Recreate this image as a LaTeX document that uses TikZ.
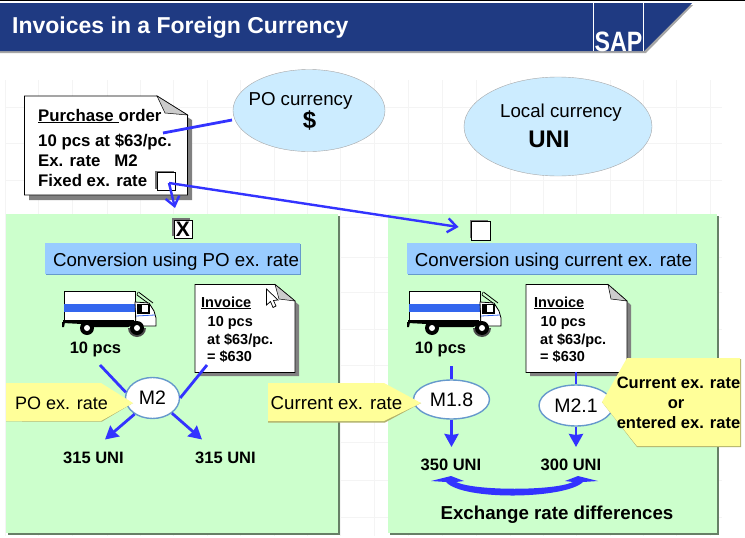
\documentclass[tikz,border=0pt]{standalone}
\usepackage{graphicx}
\usepackage{fontspec}
\setmainfont{Liberation Sans}
\usetikzlibrary{arrows.meta,shapes.geometric}
\definecolor{hdr}{HTML}{1F3A82}
\definecolor{pgreen}{HTML}{CCFFCC}
\definecolor{barblue}{HTML}{99CCFF}
\definecolor{skyfill}{HTML}{CCECFF}
\definecolor{callout}{HTML}{FFFF99}
\definecolor{arrowblue}{HTML}{3333FF}
\definecolor{ringblue}{HTML}{6699CC}
\definecolor{gridc}{HTML}{F4F4F4}
\definecolor{bandblue}{HTML}{3366EE}
\tikzset{
  x=1pt,y=-1pt,
  panel/.style={fill=pgreen,draw=none},
  panelshade/.style={fill=black!50!pgreen},
  barbox/.style={fill=barblue,draw=none},
  barshade/.style={fill=ringblue},
  sky/.style={ellipse,fill=skyfill,draw=gray!70,line width=.4pt,inner sep=0pt},
  rate/.style={ellipse,fill=white,draw=ringblue,line width=1.4pt,inner sep=0pt,font=\fontsize{19.5}{22}\selectfont},
  note/.style={fill=white,draw=black,line width=.9pt},
  noteshade/.style={fill=black!50},
  fold/.style={fill=black!20,draw=black,line width=.5pt},
  calloutbox/.style={fill=callout,draw=none},
  calloutshade/.style={fill=black!30!callout},
  tick/.style={fill=white,draw=black,line width=.9pt},
  tickshade/.style={fill=black!55},
  link/.style={draw=arrowblue,line width=2.8pt},
  linkarrow/.style={draw=arrowblue,line width=2.8pt,-{Stealth[length=13pt,width=14pt,inset=1pt]}},
  openarrow/.style={draw=arrowblue,line width=2.4pt,-{Straight Barb[length=9pt,width=14pt]}},
  boldtxt/.style={font=\bfseries\fontsize{16.5}{19}\selectfont,text=black,inner sep=0pt},
  potxtstyle/.style={font=\bfseries\fontsize{16.8}{19}\selectfont,text=black,inner sep=0pt},
  invtxt/.style={font=\bfseries\fontsize{14.5}{17}\selectfont,text=black,inner sep=0pt},
  plain/.style={font=\fontsize{18.7}{22}\selectfont,text=black,inner sep=0pt},
  truckpic/.pic={
    \draw[fill=white,draw=black,line width=.9pt] (2,0) rectangle (73,30);
    \fill[bandblue] (2,13) rectangle (73,21);
    \fill[black] (1,29) -- (72,29) -- (72,34) -- (66,36) -- (32,36) -- (20,33) -- (1,32) -- cycle;
    \draw[fill=white,draw=black,line width=.8pt] (73,11) -- (87,12) -- (92,20) -- (94,27) -- (94,35) -- (74,35) -- cycle;
    \draw[fill=white,draw=black,line width=1.4pt] (76,13.5) rectangle (87,22);
    \fill[black] (76,13) rectangle (80,22);
    \draw[black,line width=.8pt] (76.5,1) -- (91,12);
    \draw[black,line width=.8pt] (75,4) -- (86,12);
    \draw[black,line width=.6pt] (76,1) -- (75,4);
    \draw[bandblue,line width=.8pt] (74,25) -- (93,24);
    \fill[black] (0,31) -- (3,31) -- (2,36) -- (0,36) -- cycle;
    \fill[black] (25,37) circle (7);
    \fill[white] (25,37) circle (3);
    \fill[black!70] (66,37) arc (180:0:9 and 9) -- cycle;
    \fill[black] (75,37) circle (7);
    \fill[white] (75,37) circle (3);
  }
}
\begin{document}
\begin{tikzpicture}
\useasboundingbox (0,0) rectangle (745,538);
\fill[white] (0,0) rectangle (745,538);
% faint grid
\foreach \gx in {5,38,72,107,140,173,207,240,274,307,340,374,408,442,476,510,543,576,610,643,676,710}
  \draw[gridc,line width=1pt] (\gx,80) -- (\gx,536);
\foreach \gy in {107,143,180,217,257,292,329,365,402,442,480,517}
  \draw[gridc,line width=1pt] (5,\gy) -- (722,\gy);
% header
\fill[black] (0,0) rectangle (745,1);
\fill[black!35] (0,5) -- (693,5) -- (646,53) -- (0,53) -- cycle;
\fill[hdr] (0,3) -- (692,3) -- (644,51) -- (0,51) -- cycle;
\draw[white,line width=.8pt] (593.5,3) -- (593.5,51);
\draw[white,line width=.8pt] (643.5,3) -- (643.5,51);
\node[anchor=base west,text=white,inner sep=0pt,font=\bfseries\fontsize{23}{26}\selectfont] (title) at (12,34) {Invoices in a Foreign Currency};
\node[anchor=base,text=white,inner sep=0pt,font=\bfseries\fontsize{28}{30}\selectfont] (sap) at (618.5,51) {\scalebox{.83}[1]{SAP}};
% currency ellipses
\node[sky,minimum width=152pt,minimum height=82pt] (po) at (309,110.5) {};
\node[sky,minimum width=188pt,minimum height=99pt] (lc) at (558,126.5) {};
\node[plain,anchor=base] (potxt) at (300.5,105) {PO currency};
\node[anchor=base,inner sep=0pt,font=\bfseries\fontsize{24}{26}\selectfont] (posym) at (309.5,128) {\$};
\node[plain,anchor=base] (lctxt) at (561,117) {Local currency};
\node[anchor=base,inner sep=0pt,font=\bfseries\fontsize{24}{26}\selectfont] (lcsym) at (549,147.5) {UNI};
% panels
\fill[panelshade] (8,216) rectangle (339.5,535);
\fill[panelshade] (390,216) rectangle (718.5,535);
\fill[panel] (6,214) rectangle (338,533);
\fill[panel] (388,214) rectangle (717,533);
% purchase order note
\fill[noteshade] (29,101) -- (162,101) -- (192,120) -- (192,200) -- (29,200) -- cycle;
\draw[note] (24.5,96) -- (157,96) -- (187.5,115) -- (187.5,195) -- (24.5,195) -- cycle;
\draw[fold] (157,96) -- (187.5,115) -- (165,113) -- cycle;
\node[potxtstyle,anchor=base west] (pohead) at (38,121) {\underline{Purchase }order};
\node[potxtstyle,anchor=base west] (po1) at (38,146) {10 pcs at \$63/pc.};
\node[potxtstyle,anchor=base west] (po2) at (38,166) {Ex. rate\ \ \ M2};
\node[potxtstyle,anchor=base west] (po3) at (38,186) {Fixed ex. rate};
\fill[tickshade] (155,171) rectangle (174,189);
\node[tick,minimum width=18pt,minimum height=18pt,inner sep=0pt] (fixbox) at (166.5,181.5) {};
\coordinate (polink) at (163,133);
\coordinate (poend) at (232,120);
\coordinate (fixstart) at (169,183);
\draw[link] (polink) -- (poend);
% check boxes
\fill[tickshade] (172,218) rectangle (190,236);
\node[tick,minimum width=18pt,minimum height=18pt,inner sep=0pt,font=\bfseries\fontsize{21}{22}\selectfont] (xbox) at (183,229) {X};
\fill[tickshade] (470,220) rectangle (488,238);
\node[tick,minimum width=19pt,minimum height=19pt,inner sep=0pt] (opbox) at (480.5,231) {};
\draw[openarrow] (fixstart) -- ([xshift=-8pt,yshift=21pt]xbox.center);
\draw[openarrow] (fixstart) -- ([xshift=-22pt,yshift=4pt]opbox.center);
% bars
\fill[barshade] (46,244) rectangle (301,275);
\fill[barbox] (45,243) rectangle (300,274);
\fill[barshade] (408,244) rectangle (697,275);
\fill[barbox] (407,243) rectangle (696,274);
\node[plain,anchor=base] (barl) at (176,266) {Conversion using PO ex. rate};
\node[plain,anchor=base] (barr) at (553.5,266) {Conversion using current ex. rate};
% trucks
\pic at (62,291) {truckpic};
\pic at (407,291) {truckpic};
\node[boldtxt,anchor=base] (qty1) at (95.5,353) {10 pcs};
\node[boldtxt,anchor=base] (qty2) at (440.5,353) {10 pcs};
% invoices
\fill[noteshade] (199,288) -- (279,288) -- (299,305) -- (299,376) -- (199,376) -- cycle;
\draw[note] (195,284.5) -- (275,284.5) -- (295,301) -- (295,372.5) -- (195,372.5) -- cycle;
\draw[fold] (275,284.5) -- (295,301) -- (279,299) -- cycle;
\draw[fill=white,draw=black,line width=.7pt] (266.5,289) -- (266.5,305) -- (270.5,301.5) -- (273,307.5) -- (276,306) -- (273.5,300.5) -- (278,300) -- cycle;
\node[invtxt,anchor=base west] (inv1h) at (201,307) {\underline{Invoice}};
\node[invtxt,anchor=base west] (inv1a) at (207.5,326) {10 pcs};
\node[invtxt,anchor=base west] (inv1b) at (207,344) {at \$63/pc.};
\node[invtxt,anchor=base west] (inv1c) at (207,361) {= \$630};
\fill[noteshade] (530,288) -- (612,288) -- (631,305) -- (631,376) -- (530,376) -- cycle;
\draw[note] (526,284.5) -- (608,284.5) -- (627,301) -- (627,372.5) -- (526,372.5) -- cycle;
\draw[fold] (608,284.5) -- (627,301) -- (611,299) -- cycle;
\node[invtxt,anchor=base west] (inv2h) at (534,307) {\underline{Invoice}};
\node[invtxt,anchor=base west] (inv2a) at (540.5,326) {10 pcs};
\node[invtxt,anchor=base west] (inv2b) at (540,344) {at \$63/pc.};
\node[invtxt,anchor=base west] (inv2c) at (540,361) {= \$630};
% rate ellipses
\node[rate,minimum width=54pt,minimum height=41pt] (m2) at (152.5,398) {M2};
\node[rate,minimum width=76pt,minimum height=39pt] (m18) at (451.5,399.5) {M1.8};
\node[rate,minimum width=74pt,minimum height=41pt] (m21) at (576,405.5) {M2.1};
% connectors
\coordinate (l1) at (100,365);
\coordinate (l2) at (207,365);
\coordinate (o1) at (105,439.5);
\coordinate (o2) at (202,439.5);
\coordinate (l3) at (451.5,366);
\coordinate (l4) at (576,372);
\coordinate (o3) at (451.5,447);
\coordinate (o4) at (576,447);
\draw[link] (l1) -- (m2.168);
\draw[link] (l2) -- (m2.east);
\draw[linkarrow] (m2.222) -- (o1);
\draw[linkarrow] (m2.-38) -- (o2);
\draw[link] (l3) -- (m18);
\draw[link] (l4) -- (m21);
\draw[linkarrow] (m18) -- (o3);
\draw[linkarrow] (m21) -- (o4);
% callouts
\fill[calloutshade] (6,421.5) -- (102,421.5) -- (133,403) -- (101,420) -- cycle;
\fill[calloutbox] (6,383) -- (101,383) -- (133,403) -- (101,421) -- (6,421) -- cycle;
\node[plain,anchor=base west,font=\fontsize{18}{21}\selectfont] (c1) at (15,409) {PO ex. rate};
\fill[calloutshade] (268,383) -- (268,422.5) -- (385,422.5) -- (421,403) -- cycle;
\fill[calloutbox] (268,383) -- (384,383) -- (421,403) -- (384,421) -- (268,421) -- cycle;
\node[plain,anchor=base west] (c2) at (270.5,409) {Current ex. rate};
\fill[calloutshade] (741,359) -- (741,447) -- (637,447) -- (602,402) -- cycle;
\fill[calloutbox] (627,358) -- (740,358) -- (740,446) -- (637,446) -- (602,402) -- cycle;
\node[boldtxt,anchor=base] (c3a) at (678.5,388) {Current ex. rate};
\node[boldtxt,anchor=base] (c3b) at (676,408) {or};
\node[boldtxt,anchor=base] (c3c) at (678.5,428) {entered ex. rate};
% results
\node[boldtxt,anchor=base] (r1) at (93.5,463) {315 UNI};
\node[boldtxt,anchor=base] (r2) at (225.5,463) {315 UNI};
\node[boldtxt,anchor=base] (r3) at (451,470) {350 UNI};
\node[boldtxt,anchor=base] (r4) at (571,470) {300 UNI};
\fill[arrowblue] (431,481) -- (451,476) -- (464,481) -- (456,482) .. controls (475,491) and (554,491) .. (573,482) -- (565,481) -- (578,476) -- (598,481) -- (583,482) .. controls (566,499) and (463,501) .. (446,482) -- cycle;
\node[anchor=base,inner sep=0pt,font=\bfseries\fontsize{18.7}{21}\selectfont] (diff) at (557,519) {Exchange rate differences};
\end{tikzpicture}
\end{document}
